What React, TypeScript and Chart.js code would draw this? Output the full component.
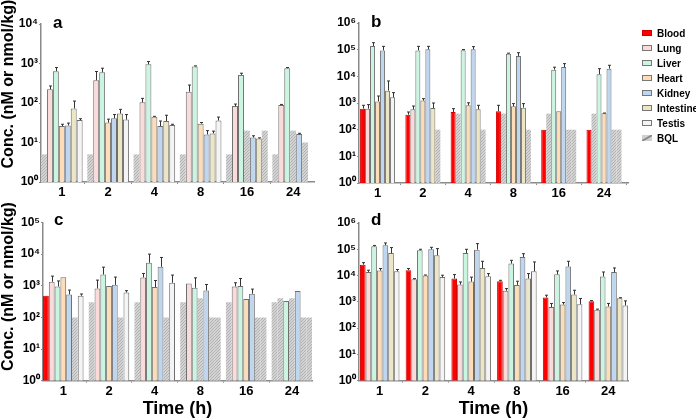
import React, { useEffect, useRef } from "react";
import { Chart, registerables } from "chart.js";
Chart.register(...registerables);

const FONT = "Arial, 'Liberation Sans', Helvetica, sans-serif";
const TIMES = ["1", "2", "4", "8", "16", "24"];
const SERIES = ["Blood", "Lung", "Liver", "Heart", "Kidney", "Intestine", "Testis"];
const COLORS = ["#ff0000", "#fbdada", "#c9f5e1", "#fddcb6", "#bed6ef", "#ede6c5", "#f4f4f4"];
const BORDERS = ["#d00000", "#6e6e6e", "#6e6e6e", "#6e6e6e", "#6e6e6e", "#6e6e6e", "#6e6e6e"];
const SUP = ["⁰", "¹", "²", "³", "⁴", "⁵", "⁶"];
const N = null;

// ---- Panel a ----
const A_BLOOD = [N, N, N, N, N, N];
const A_BLOOD_BQL = [5, 5, 5, 5, 5, 5];
const A_BLOOD_ERR = [0, 0, 0, 0, 0, 0];
const A_LUNG = [222, 377, 104, 194, 84, 89];
const A_LUNG_BQL = [N, N, N, N, N, N];
const A_LUNG_ERR = [48, 250, 27, 91, 10, 3];
const A_LIVER = [640, 600, 960, 840, 515, 760];
const A_LIVER_BQL = [N, N, N, N, N, N];
const A_LIVER_ERR = [150, 160, 160, 30, 53, 30];
const A_HEART = [26, 32, 45, 30, N, N];
const A_HEART_BQL = [N, N, N, N, 20, 20];
const A_HEART_ERR = [3, 7, 1, 2, 0, 0];
const A_KIDNEY = [27, 41, 26, 16, 13.4, 16.3];
const A_KIDNEY_BQL = [N, N, N, N, N, N];
const A_KIDNEY_ERR = [4, 10, 9, 4, 1.4, 0.8];
const A_INTESTINE = [73, 54, 35, 17, 12.6, N];
const A_INTESTINE_BQL = [N, N, N, N, N, 10];
const A_INTESTINE_ERR = [39, 15, 14, 2.4, 0.5, 0];
const A_TESTIS = [37, 38, 27.6, 36, N, N];
const A_TESTIS_BQL = [N, N, N, N, 20, N];
const A_TESTIS_ERR = [3, 13, 1.4, 8, 0, 0];

// ---- Panel b ----
const B_BLOOD = [613, 365, 460, 490, 100, 100];
const B_BLOOD_BQL = [N, N, N, N, N, N];
const B_BLOOD_ERR = [207, 95, 153, 330, 0, 0];
const B_LUNG = [613, 580, N, N, N, N];
const B_LUNG_BQL = [N, N, 400, 400, 400, 400];
const B_LUNG_ERR = [257, 190, 0, 0, 0, 0];
const B_LIVER = [137000, 94000, 96000, 71000, 17800, 11900];
const B_LIVER_BQL = [N, N, N, N, N, N];
const B_LIVER_ERR = [46000, 39000, 5000, 3000, 4200, 7500];
const B_HEART = [1150, 1230, 820, 750, 490, 410];
const B_HEART_BQL = [N, N, N, N, N, N];
const B_HEART_ERR = [680, 220, 200, 200, 0, 10];
const B_KIDNEY = [94000, 103000, 103000, 58000, 22400, 19400];
const B_KIDNEY_BQL = [N, N, N, N, N, N];
const B_KIDNEY_ERR = [39000, 30000, 27000, 19000, 7600, 6600];
const B_INTESTINE = [2900, 650, 580, 670, N, N];
const B_INTESTINE_BQL = [N, N, N, N, 100, 100];
const B_INTESTINE_ERR = [3800, 350, 240, 280, 0, 0];
const B_TESTIS = [1630, N, N, N, N, N];
const B_TESTIS_BQL = [N, 100, 100, 100, 100, 100];
const B_TESTIS_ERR = [820, 0, 0, 0, 0, 0];

// ---- Panel c ----
const C_BLOOD = [483, N, N, N, N, N];
const C_BLOOD_BQL = [N, 300, 300, 300, 300, 300];
const C_BLOOD_ERR = [0, 0, 0, 0, 0, 0];
const C_LUNG = [1340, 825, 1830, 1180, 950, N];
const C_LUNG_BQL = [N, N, N, N, N, 400];
const C_LUNG_ERR = [680, 685, 620, 0, 295, 0];
const C_LIVER = [950, 2270, 5350, 865, 980, 330];
const C_LIVER_BQL = [N, N, N, N, N, N];
const C_LIVER_ERR = [470, 1610, 4650, 915, 720, 0];
const C_HEART = [1870, 980, 910, N, 380, N];
const C_HEART_BQL = [N, N, N, 400, N, 400];
const C_HEART_ERR = [0, 0, 560, 0, 0, 0];
const C_KIDNEY = [532, 1070, 3970, 710, 560, 680];
const C_KIDNEY_BQL = [N, N, N, N, N, N];
const C_KIDNEY_ERR = [200, 810, 3880, 390, 225, 0];
const C_INTESTINE = [N, N, N, N, N, N];
const C_INTESTINE_BQL = [100, 100, 100, 100, 100, 100];
const C_INTESTINE_ERR = [0, 0, 0, 0, 0, 0];
const C_TESTIS = [483, 617, 1245, N, N, N];
const C_TESTIS_BQL = [N, N, N, 100, 100, 100];
const C_TESTIS_ERR = [67, 83, 935, 0, 0, 0];

// ---- Panel d ----
const D_BLOOD = [26000, 16000, 7700, 6100, 1460, 1060];
const D_BLOOD_ERR = [5000, 2500, 3200, 500, 330, 60];
const D_LUNG = [13800, 7250, 4550, 2630, 630, 500];
const D_LUNG_ERR = [2200, 400, 1180, 570, 240, 30];
const D_LIVER = [130000, 92000, 72000, 28600, 11200, 9200];
const D_LIVER_ERR = [10000, 8000, 28000, 9400, 3800, 4500];
const D_HEART = [15500, 10000, 5900, 4420, 790, 665];
const D_HEART_ERR = [3000, 500, 2800, 1680, 150, 205];
const D_KIDNEY = [142000, 100000, 97000, 51000, 22000, 13700];
const D_KIDNEY_ERR = [32000, 19000, 67000, 17000, 13000, 5800];
const D_INTESTINE = [72000, 59000, 19500, 7700, 1900, 1380];
const D_INTESTINE_ERR = [44000, 47000, 15500, 4200, 860, 60];
const D_TESTIS = [14600, 8900, 9400, 14600, 815, 725];
const D_TESTIS_ERR = [2400, 1400, 2500, 18400, 525, 365];
const D_NO_BQL = [N, N, N, N, N, N];

const PANELS = [
  {
    letter: "a", left: 0, top: 0, w: 330, h: 200, yW: 41, padR: 16, padT: 24, xH: 18,
    yMax: 1e4, xMin: -0.45, xMax: 5.45, catPct: 0.9, lx: 53, ly: 28, yTitle: [9, 84], xTitle: false,
    vals: [A_BLOOD, A_LUNG, A_LIVER, A_HEART, A_KIDNEY, A_INTESTINE, A_TESTIS],
    bql: [A_BLOOD_BQL, A_LUNG_BQL, A_LIVER_BQL, A_HEART_BQL, A_KIDNEY_BQL, A_INTESTINE_BQL, A_TESTIS_BQL],
    err: [A_BLOOD_ERR, A_LUNG_ERR, A_LIVER_ERR, A_HEART_ERR, A_KIDNEY_ERR, A_INTESTINE_ERR, A_TESTIS_ERR],
  },
  {
    letter: "b", left: 320, top: 0, w: 320, h: 200, yW: 39, padR: 12, padT: 23, xH: 17,
    yMax: 1e6, xMin: -0.41, xMax: 5.53, catPct: 0.773, lx: 51, ly: 27, yTitle: null, xTitle: false,
    vals: [B_BLOOD, B_LUNG, B_LIVER, B_HEART, B_KIDNEY, B_INTESTINE, B_TESTIS],
    bql: [B_BLOOD_BQL, B_LUNG_BQL, B_LIVER_BQL, B_HEART_BQL, B_KIDNEY_BQL, B_INTESTINE_BQL, B_TESTIS_BQL],
    err: [B_BLOOD_ERR, B_LUNG_ERR, B_LIVER_ERR, B_HEART_ERR, B_KIDNEY_ERR, B_INTESTINE_ERR, B_TESTIS_ERR],
  },
  {
    letter: "c", left: 0, top: 200, w: 330, h: 220, yW: 43, padR: 18, padT: 22.5, xH: 39.3,
    yMax: 1e5, xMin: -0.444, xMax: 5.44, catPct: 0.886, lx: 54, ly: 25, yTitle: [9, 86.5], xTitle: true,
    vals: [C_BLOOD, C_LUNG, C_LIVER, C_HEART, C_KIDNEY, C_INTESTINE, C_TESTIS],
    bql: [C_BLOOD_BQL, C_LUNG_BQL, C_LIVER_BQL, C_HEART_BQL, C_KIDNEY_BQL, C_INTESTINE_BQL, C_TESTIS_BQL],
    err: [C_BLOOD_ERR, C_LUNG_ERR, C_LIVER_ERR, C_HEART_ERR, C_KIDNEY_ERR, C_INTESTINE_ERR, C_TESTIS_ERR],
  },
  {
    letter: "d", left: 320, top: 200, w: 320, h: 220, yW: 39, padR: 12, padT: 23, xH: 39.3,
    yMax: 1e6, xMin: -0.453, xMax: 5.43, catPct: 0.865, lx: 51, ly: 25, yTitle: null, xTitle: true,
    vals: [D_BLOOD, D_LUNG, D_LIVER, D_HEART, D_KIDNEY, D_INTESTINE, D_TESTIS],
    bql: [D_NO_BQL, D_NO_BQL, D_NO_BQL, D_NO_BQL, D_NO_BQL, D_NO_BQL, D_NO_BQL],
    err: [D_BLOOD_ERR, D_LUNG_ERR, D_LIVER_ERR, D_HEART_ERR, D_KIDNEY_ERR, D_INTESTINE_ERR, D_TESTIS_ERR],
  },
];

function makeHatch(): CanvasPattern | string {
  const c = document.createElement("canvas");
  c.width = 3;
  c.height = 3;
  const g = c.getContext("2d");
  if (!g) return "#c8c8c8";
  g.fillStyle = "#d3d3d3";
  g.fillRect(0, 0, 3, 3);
  g.fillStyle = "#b2b2b2";
  g.fillRect(2, 0, 1, 1);
  g.fillRect(1, 1, 1, 1);
  g.fillRect(0, 2, 1, 1);
  return g.createPattern(c, "repeat") || "#c8c8c8";
}

function Panel({ p }: { p: any }) {
  const ref = useRef<HTMLCanvasElement>(null);
  useEffect(() => {
    if (!ref.current) return;
    const hatch = makeHatch();
    const chart = new Chart(ref.current, {
      type: "bar",
      data: {
        datasets: SERIES.map((name, s) => {
          const vals = p.vals[s];
          const bql = p.bql[s];
          return {
            label: name,
            data: TIMES.map((_, i) => ({ x: i, y: vals[i] != null ? vals[i] : bql[i] })),
            backgroundColor: TIMES.map((_, i) => (vals[i] == null ? hatch : COLORS[s])),
            borderColor: TIMES.map((_, i) => (vals[i] == null ? "rgba(0,0,0,0)" : BORDERS[s])),
            borderWidth: TIMES.map((_, i) => (vals[i] == null ? 0 : 1)),
            categoryPercentage: p.catPct,
            barPercentage: 1,
          } as any;
        }),
      },
      options: {
        animation: false,
        responsive: false,
        maintainAspectRatio: false,
        layout: { padding: { left: 0, right: p.padR, top: p.padT, bottom: 0 } },
        plugins: { legend: { display: false }, tooltip: { enabled: false } },
        scales: {
          x: {
            type: "linear",
            min: p.xMin,
            max: p.xMax,
            offset: false,
            afterBuildTicks: (s: any) => {
              s.ticks = TIMES.map((_, i) => ({ value: i }));
            },
            afterFit: (s: any) => {
              s.height = p.xH;
            },
            ticks: {
              callback: (v: any) => TIMES[Math.round(v)] ?? "",
              font: { family: FONT, size: 13, weight: "bold" },
              color: "#000",
              padding: 1,
              maxRotation: 0,
              autoSkip: false,
            },
            grid: { display: true, drawOnChartArea: false, drawTicks: true, tickLength: 2, color: "#8a8a8a" },
            border: { display: true, color: "#8a8a8a", width: 1.5 },
            title: {
              display: p.xTitle,
              text: "Time (h)",
              font: { family: FONT, size: 18, weight: "bold" },
              color: "#000",
              padding: 0,
            },
          },
          y: {
            type: "logarithmic",
            min: 1,
            max: p.yMax,
            afterBuildTicks: (s: any) => {
              const t: any[] = [];
              for (let e = 0; Math.pow(10, e) <= p.yMax; e++) t.push({ value: Math.pow(10, e) });
              s.ticks = t;
            },
            afterFit: (s: any) => {
              s.width = p.yW;
            },
            ticks: {
              callback: (v: any) => "10" + SUP[Math.round(Math.log10(v))],
              font: { family: FONT, size: 12, weight: "bold" },
              color: "#000",
              padding: 1,
            },
            grid: { display: true, drawOnChartArea: false, drawTicks: true, tickLength: 2, color: "#8a8a8a" },
            border: { display: true, color: "#8a8a8a", width: 1.5 },
          },
        },
      } as any,
      plugins: [
        {
          id: "errbars",
          afterDatasetsDraw(chart: any) {
            const ctx = chart.ctx;
            const ys = chart.scales.y;
            ctx.save();
            ctx.strokeStyle = "#333";
            ctx.lineWidth = 1;
            chart.data.datasets.forEach((_: any, s: number) => {
              const meta = chart.getDatasetMeta(s);
              meta.data.forEach((el: any, i: number) => {
                const v = p.vals[s][i];
                const e = p.err[s][i];
                if (v == null || !e) return;
                const top = ys.getPixelForValue(v + e);
                const x = Math.round(el.x) + 0.5;
                ctx.beginPath();
                ctx.moveTo(x, el.y);
                ctx.lineTo(x, top);
                ctx.moveTo(x - 1.5, top);
                ctx.lineTo(x + 1.5, top);
                ctx.stroke();
              });
            });
            ctx.restore();
          },
          afterDraw(chart: any) {
            const ctx = chart.ctx;
            ctx.save();
            ctx.fillStyle = "#000";
            ctx.font = `bold 17px ${FONT}`;
            ctx.textAlign = "left";
            ctx.textBaseline = "alphabetic";
            ctx.fillText(p.letter, p.lx, p.ly);
            if (p.yTitle) {
              ctx.translate(p.yTitle[0], p.yTitle[1]);
              ctx.rotate(-Math.PI / 2);
              ctx.font = `bold 16px ${FONT}`;
              ctx.textAlign = "center";
              ctx.textBaseline = "middle";
              ctx.fillText("Conc. (nM or nmol/kg)", 0, 0);
            }
            ctx.restore();
          },
        },
      ],
    });
    return () => chart.destroy();
  }, [p]);
  return (
    <canvas
      ref={ref}
      width={p.w}
      height={p.h}
      style={{ position: "absolute", left: p.left, top: p.top, width: p.w, height: p.h }}
    />
  );
}

const LEGEND_LABELS = ["Blood", "Lung", "Liver", "Heart", "Kidney", "Intestine", "Testis", "BQL"];

export default function App() {
  return (
    <div style={{ position: "absolute", left: 0, top: 0, width: 696, height: 420, background: "#fff", overflow: "hidden" }}>
      {PANELS.map((p) => (
        <Panel key={p.letter} p={p} />
      ))}
      <div style={{ position: "absolute", left: 642, top: 25.5 }}>
        {LEGEND_LABELS.map((name, k) => (
          <div key={name} style={{ display: "flex", alignItems: "center", height: 15 }}>
            <div
              style={{
                width: 10,
                height: 6,
                boxSizing: "border-box",
                border: k === 7 ? "none" : `1px solid ${k === 0 ? "#d00000" : "#777"}`,
                background:
                  k === 7
                    ? "linear-gradient(150deg, #d0d0d0 0%, #d0d0d0 38%, #8a8a8a 46%, #8a8a8a 56%, #d0d0d0 64%, #d0d0d0 100%)"
                    : COLORS[k],
              }}
            />
            <span style={{ marginLeft: 5, font: `bold 10px ${FONT}`, color: "#000", whiteSpace: "nowrap" }}>{name}</span>
          </div>
        ))}
      </div>
    </div>
  );
}
